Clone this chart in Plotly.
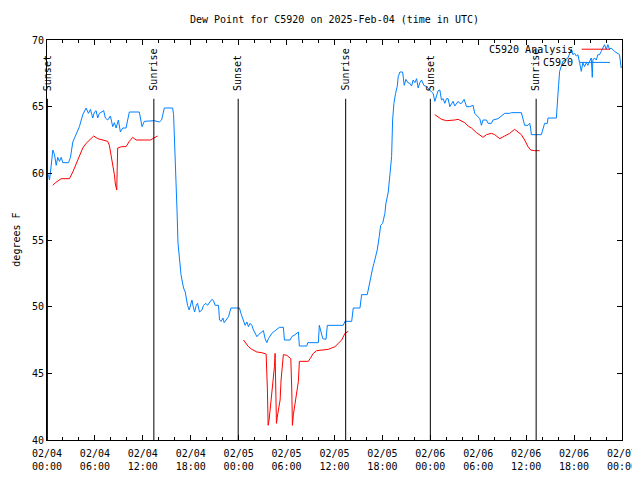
import pandas as pd
import plotly.graph_objects as go

BASE = pd.Timestamp("2025-02-04 00:00")
TITLE = "Dew Point for C5920 on 2025-Feb-04 (time in UTC)"
Y_LABEL = "degrees F"
OBS_NAME = "C5920"
ANA_NAME = "C5920 Analysis"

# observed dew point (hours since 02/04 00:00 UTC, degF)
obs_hours = [0.19, 0.31, 0.44, 0.73, 0.94, 1.15, 1.35, 1.56, 1.78, 1.98, 2.69, 2.94, 3.23, 3.65, 4.06, 4.48, 4.9,
             5.19, 5.44, 5.73, 5.94, 6.15, 6.35, 6.56, 6.81, 7.1, 7.31, 7.6, 7.94, 8.23, 8.44, 8.65, 8.94, 9.19,
             9.48, 9.9, 10.1, 10.31, 11.56, 11.78, 11.9, 12.19, 13.03, 13.44, 14.06, 14.35, 14.69, 15.73, 15.85,
             15.94, 16.03, 16.15, 16.28, 16.4, 16.53, 16.69, 16.78, 16.9, 17.1, 17.31, 17.44, 17.6, 17.81, 17.98,
             18.15, 18.31, 18.48, 18.69, 18.85, 19.1, 19.4, 19.6, 19.9, 20.1, 20.44, 20.65, 20.85, 21.06, 21.48,
             21.6, 21.81, 22.03, 22.19, 22.53, 22.73, 23.03, 24.1, 24.28, 24.53, 24.81, 25.03, 25.23, 25.44, 25.65,
             25.85, 26.06, 26.28, 26.48, 26.69, 26.9, 27.1, 27.31, 27.53, 27.73, 28.15, 28.56, 29.1, 29.6, 29.73,
             30.44, 30.65, 31.06, 31.48, 31.6, 32.53, 32.65, 33.98, 34.1, 34.28, 34.53, 34.94, 35.1, 37.1, 37.31,
             38.15, 38.35, 39.19, 39.4, 40.1, 40.31, 40.53, 40.73, 40.94, 41.35, 41.6, 41.78, 42.03, 42.31, 42.44,
             42.73, 42.94, 43.15, 43.28, 43.44, 43.65, 43.85, 43.98, 44.19, 44.53, 44.73, 44.94, 45.19, 45.44,
             45.65, 45.85, 46.06, 46.28, 46.48, 46.69, 46.9, 47.19, 47.53, 48.15, 48.35, 48.56, 48.78, 48.98,
             49.19, 49.4, 49.6, 49.81, 50.03, 50.23, 50.44, 50.65, 50.85, 51.06, 51.28, 51.48, 51.69, 51.9, 52.23,
             52.53, 52.94, 53.35, 53.56, 53.98, 54.19, 54.4, 54.6, 55.03, 55.23, 55.65, 55.85, 56.48, 56.9, 57.31,
             57.94, 58.15, 59.4, 59.6, 59.81, 60.23, 60.44, 60.56, 60.65, 61.9, 62.1, 62.31, 62.65, 62.73, 63.78,
             63.98, 64.06, 64.19, 64.4, 64.6, 65.23, 65.65, 65.85, 66.06, 66.28, 66.48, 66.69, 66.9, 67.1, 67.31,
             67.53, 67.73, 67.94, 68.15, 68.28, 68.35, 68.56, 68.78, 68.98, 69.19, 69.4, 69.6, 69.81, 70.03, 70.23,
             70.44, 70.65, 71.06, 71.69, 71.9]
obs_dewpt = [59.9, 59.5, 60.1, 61.75, 61.4, 60.6, 61.2, 60.9, 61.2, 60.8, 60.8, 61.2, 62.35, 62.9, 63.5, 64.4, 64.9,
             64.5, 64.8, 64.15, 64.6, 64.7, 64.15, 64.5, 64.6, 64.7, 64.15, 64.0, 64.3, 63.5, 63.8, 63.4, 64.0, 63.1,
             63.4, 63.4, 64.0, 64.6, 64.6, 63.9, 63.5, 63.9, 63.9, 63.95, 63.85, 64.0, 64.9, 64.9, 64.4,
             63.1, 61.6, 60.1, 57.25, 54.8, 53.9, 52.75, 52.4, 52.0, 51.4, 51.1, 50.6, 50.1, 49.75, 50.1,
             50.5, 50.0, 49.6, 50.1, 50.25, 49.6, 49.75, 50.1, 50.25, 50.1, 50.4, 50.55, 50.45, 50.1, 50.1,
             49.0, 48.9, 49.15, 48.8, 49.1, 49.25, 49.9, 49.9, 49.5, 49.1, 48.6, 48.85, 48.5, 48.75, 48.6,
             48.25, 48.0, 47.75, 47.9, 48.0, 48.15, 48.2, 47.6, 47.3, 47.6, 48.0, 48.2, 48.45, 48.45, 47.5,
             47.5, 47.75, 47.9, 48.1, 47.05, 47.05, 47.3, 47.3, 48.6, 48.1, 47.6, 47.55, 48.6, 48.6, 48.9,
             48.9, 49.9, 49.9, 50.9, 50.9, 51.6, 52.1, 52.75, 53.25, 54.25, 55.25, 56.1, 56.25, 57.0, 57.75,
             58.6, 59.9, 61.25, 64.0, 65.25, 66.0, 66.5, 67.25, 67.6, 67.6, 66.6, 67.05, 66.8, 66.75,
             66.55, 67.0, 66.8, 67.1, 66.4, 66.8, 67.0, 66.6, 66.5, 66.1, 66.0, 65.4, 65.9, 66.2,
             66.25, 65.5, 65.6, 65.25, 65.6, 65.6, 65.0, 65.25, 65.4, 65.05, 65.25, 65.4, 65.25, 65.25, 65.55,
             65.0, 65.0, 65.1, 64.5, 64.25, 64.1, 63.6, 64.0, 64.0, 63.75, 63.75, 64.0, 64.1, 64.3, 64.5,
             64.5, 64.55, 64.55, 64.1, 63.6, 63.6, 63.75, 63.4, 62.9, 62.9, 63.4, 63.75, 63.75, 64.15, 64.15,
             65.5, 66.6, 67.65, 68.15, 68.4, 68.65, 69.3, 68.9, 69.0, 68.8, 68.9, 68.3, 67.65, 68.3, 68.0,
             68.3, 68.1, 68.4, 68.65, 67.2, 68.5, 68.65, 68.5, 68.9, 68.9, 69.15, 69.4, 69.65, 69.3, 69.65,
             69.3, 69.4, 69.15, 68.9, 67.9]

# analysis dew point, three separate runs (None = gap)
ana_hours = [0.73, 1.06, 1.78, 2.81, 3.23, 3.65, 4.06, 4.48, 4.9, 5.31, 5.85, 6.35, 6.98, 7.6, 7.81, 8.03, 8.23,
             8.44, 8.56, 8.73, 8.85, 9.35, 9.9, 10.31, 10.73, 11.15, 12.94, 13.44, 13.85, 14.0,
             24.6, 24.81, 25.23, 25.65, 26.28, 26.9, 27.44, 27.6, 27.69, 27.81, 27.94, 28.15, 28.35, 28.48, 28.56,
             28.65, 28.73, 28.85, 29.06, 29.19, 29.31, 29.48, 29.6, 30.03, 30.53, 30.65, 30.73, 30.85, 31.06,
             31.28, 31.48, 31.6, 32.73, 32.94, 33.35, 33.78, 34.6, 35.23, 35.65, 36.06, 36.48, 36.9, 37.31,
             37.6, 37.73, 38.0,
             48.56, 48.98, 49.4, 50.03, 50.65, 51.06, 51.48, 51.9, 52.31, 52.73, 53.15, 53.78, 54.19, 54.6,
             55.03, 55.65, 56.06, 56.69, 57.31, 57.94, 58.56, 58.98, 59.4, 59.81, 60.23, 60.56, 61.06, 61.69]
ana_dewpt = [59.1, 59.3, 59.6, 59.6, 60.1, 60.75, 61.25, 61.9, 62.25, 62.5, 62.8, 62.6, 62.5, 62.4, 62.1, 61.4, 60.6,
             59.9, 59.2, 58.75, 61.9, 62.0, 62.0, 62.4, 62.7, 62.5, 62.5, 62.7, 62.8, None,
             47.5, 47.35, 47.0, 46.8, 46.6, 46.55, 46.45, 43.75, 41.1, 41.5, 42.25, 43.75, 44.5, 45.5, 46.5,
             44.5, 41.25, 41.8, 42.4, 43.0, 44.5, 46.0, 46.4, 46.35, 46.1, 43.75, 41.1, 41.9, 42.75,
             43.5, 44.4, 45.9, 45.9, 46.1, 46.5, 46.7, 46.75, 46.8, 46.9, 47.0, 47.25, 47.5, 48.0,
             48.1, 48.15, None,
             64.4, 64.25, 64.05, 63.95, 63.95, 64.0, 64.05, 63.9, 63.8, 63.55, 63.4, 63.05, 62.9, 62.7,
             62.9, 63.0, 62.9, 62.6, 62.8, 63.0, 63.3, 63.1, 62.9, 62.5, 62.0, 61.75, 61.7, 61.7]

# sunrise / sunset marks (hours since 02/04 00:00 UTC)
sun_hours = [0.05, 13.38, 23.94, 37.4, 48.0, 61.25]
sun_labels = ["Sunset", "Sunrise", "Sunset", "Sunrise", "Sunset", "Sunrise"]

x_tick_hours = [0, 6, 12, 18, 24, 30, 36, 42, 48, 54, 60, 66, 72]
x_tick_text = ["02/04<br>00:00", "02/04<br>06:00", "02/04<br>12:00", "02/04<br>18:00",
               "02/05<br>00:00", "02/05<br>06:00", "02/05<br>12:00", "02/05<br>18:00",
               "02/06<br>00:00", "02/06<br>06:00", "02/06<br>12:00", "02/06<br>18:00",
               "02/07<br>00:00"]
y_ticks = [40, 45, 50, 55, 60, 65, 70]

BLUE = "#0080ff"
RED = "#ff0000"
FONT = "DejaVu Sans Mono"


def to_time(hours):
    return [BASE + pd.Timedelta(hours=h) for h in hours]


fig = go.Figure()
fig.add_trace(go.Scatter(x=to_time(ana_hours), y=ana_dewpt, mode="lines", line=dict(color=RED, width=1),
                         connectgaps=False, name=ANA_NAME, showlegend=False))
fig.add_trace(go.Scatter(x=to_time(obs_hours), y=obs_dewpt, mode="lines", line=dict(color=BLUE, width=1),
                         name=OBS_NAME, showlegend=False))

shapes = []
annotations = []
for h, lab in zip(sun_hours, sun_labels):
    t = BASE + pd.Timedelta(hours=h)
    shapes.append(dict(type="line", xref="x", yref="paper", x0=t, x1=t, y0=0, y1=0.853,
                       line=dict(color="black", width=1)))
    annotations.append(dict(xref="x", yref="paper", x=t, y=0.868, text=lab, textangle=-90,
                            showarrow=False, xanchor="center", yanchor="bottom",
                            font=dict(family=FONT, size=10, color="black")))

# legend (gnuplot style: text then sample line)
annotations.append(dict(xref="paper", yref="paper", x=0.918, y=0.976, text=ANA_NAME, showarrow=False,
                        xanchor="right", yanchor="middle", font=dict(family=FONT, size=10, color="black")))
annotations.append(dict(xref="paper", yref="paper", x=0.918, y=0.944, text=OBS_NAME, showarrow=False,
                        xanchor="right", yanchor="middle", font=dict(family=FONT, size=10, color="black")))
shapes.append(dict(type="line", xref="paper", yref="paper", x0=0.930, x1=0.979, y0=0.977, y1=0.977,
                   line=dict(color=RED, width=1)))
shapes.append(dict(type="line", xref="paper", yref="paper", x0=0.927, x1=0.979, y0=0.944, y1=0.944,
                   line=dict(color=BLUE, width=1)))
annotations.append(dict(xref="paper", yref="paper", x=-0.0545, y=0.5, text=Y_LABEL, textangle=-90,
                        showarrow=False, xanchor="center", yanchor="middle",
                        font=dict(family=FONT, size=10, color="black")))

# the page body adds an 8px offset; size/margins chosen so the page does not overflow
fig.update_layout(
    width=632, height=464,
    margin=dict(l=39, r=18, t=32, b=32),
    paper_bgcolor="white", plot_bgcolor="white",
    font=dict(family=FONT, size=10, color="black"),
    title=dict(text=TITLE, x=0.5, xref="paper", y=1 - 11 / 464, yanchor="middle",
               font=dict(family=FONT, size=10, color="black")),
    shapes=shapes, annotations=annotations,
    showlegend=False,
)
fig.update_xaxes(
    type="date", automargin=False,
    range=[BASE, BASE + pd.Timedelta(hours=72)],
    tickvals=to_time(x_tick_hours), ticktext=x_tick_text,
    ticks="inside", ticklen=5, tickcolor="black", tickwidth=1, ticklabelstandoff=4,
    minor=dict(tickvals=to_time([h for h in range(0, 73, 2) if h % 6]), ticks="inside", ticklen=3,
               tickcolor="black", showgrid=False),
    showline=True, linecolor="black", linewidth=1, mirror="ticks",
    showgrid=False, zeroline=False,
    tickfont=dict(family=FONT, size=10, color="black"),
)
fig.update_yaxes(
    range=[40, 70], tickvals=y_ticks, automargin=False,
    ticks="inside", ticklen=5, tickcolor="black", tickwidth=1,
    showline=True, linecolor="black", linewidth=1, mirror="ticks",
    showgrid=False, zeroline=False,
    tickfont=dict(family=FONT, size=10, color="black"),
)

fig.write_html("out.html")
